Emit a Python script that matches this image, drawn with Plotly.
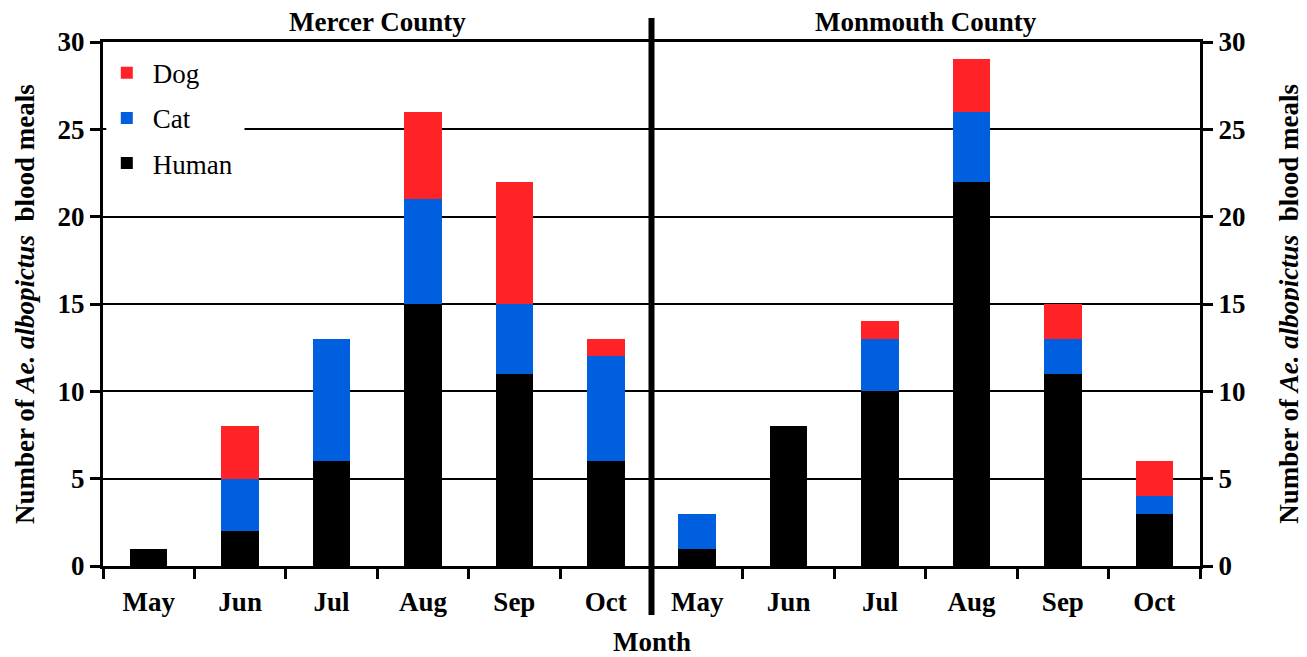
import plotly.graph_objects as go

months = ["May", "Jun", "Jul", "Aug", "Sep", "Oct"]
mercer_human = [1, 2, 6, 15, 11, 6]
mercer_cat = [0, 3, 7, 6, 4, 6]
mercer_dog = [0, 3, 0, 5, 7, 1]
monmouth_human = [1, 8, 10, 22, 11, 3]
monmouth_cat = [2, 0, 3, 4, 2, 1]
monmouth_dog = [0, 0, 1, 3, 2, 2]

RED = "#ff2227"
BLUE = "#005fdf"
BLACK = "#000000"
FONT = "Liberation Serif, Times New Roman, serif"
FS = 27

x_left = list(range(len(months)))
x_right = [len(months) + i for i in range(len(months))]

fig = go.Figure()
series = [("Human", BLACK, mercer_human, monmouth_human, 3),
          ("Cat", BLUE, mercer_cat, monmouth_cat, 2),
          ("Dog", RED, mercer_dog, monmouth_dog, 1)]
for name, col, left, right, rank in series:
    fig.add_trace(go.Bar(x=x_left, y=left, name=name, marker=dict(color=col, line=dict(width=0)),
                         width=0.41, legendgroup=name, legendrank=rank, xaxis="x", yaxis="y"))
    fig.add_trace(go.Bar(x=x_right, y=right, name=name, marker=dict(color=col, line=dict(width=0)),
                         width=0.41, legendgroup=name, legendrank=rank, showlegend=False,
                         xaxis="x", yaxis="y2"))

n = 2 * len(months)
tf = dict(family=FONT, size=FS, color="black", weight="bold")
fig.update_layout(
    width=1299, height=649,
    margin=dict(l=95, r=107, t=34, b=91, autoexpand=False),
    barmode="stack",
    plot_bgcolor="white", paper_bgcolor="white",
    font=dict(family=FONT, size=FS, color="black"),
    showlegend=True,
    legend=dict(x=-0.002, y=0.987, xanchor="left", yanchor="top", bgcolor="rgba(0,0,0,0)",
                traceorder="grouped", tracegroupgap=7,
                font=dict(family=FONT, size=FS, color="black"), itemwidth=42),
    xaxis=dict(range=[-0.5, n - 0.5], tickmode="array", tickvals=list(range(n)),
               ticktext=months + months, ticks="", showgrid=False, zeroline=False,
               showline=True, linecolor="black", linewidth=3, mirror=True,
               ticklabelstandoff=10, automargin=False, tickfont=tf,
               minor=dict(ticks="outside", tick0=-0.5, dtick=1, ticklen=10, tickwidth=3,
                          tickcolor="black", showgrid=False)),
    yaxis=dict(range=[0, 30], dtick=5, tick0=0, showgrid=True, gridcolor="black", gridwidth=1.5,
               zeroline=False, showline=True, linecolor="black", linewidth=3, automargin=False,
               ticks="outside", ticklen=10, tickwidth=3, tickcolor="black", tickfont=tf),
    yaxis2=dict(range=[0, 30], dtick=5, tick0=0, overlaying="y", side="right", showgrid=False,
                zeroline=False, showline=True, linecolor="black", linewidth=3, automargin=False,
                ticks="outside", ticklen=10, tickwidth=3, tickcolor="black", tickfont=tf),
    shapes=[dict(type="line", xref="x", yref="paper", x0=len(months) - 0.5, x1=len(months) - 0.5,
                 y0=-0.0935, y1=1.046, line=dict(color="black", width=6)),
            dict(type="rect", xref="paper", yref="y", x0=0.003, x1=0.129, y0=24.6, y1=25.4,
                 fillcolor="white", line=dict(width=0), layer="above")],
)

ytitle = "<b>Number of <i>Ae. albopictus</i>  blood meals</b>"
fig.add_annotation(text=ytitle, xref="paper", yref="paper", x=-0.071, y=0.5, textangle=-90,
                   xanchor="center", showarrow=False, font=dict(family=FONT, size=FS, color="black"))
fig.add_annotation(text=ytitle, xref="paper", yref="paper", x=1.081, y=0.5, textangle=-90,
                   xanchor="center", showarrow=False, font=dict(family=FONT, size=FS, color="black"))
fig.add_annotation(text="<b>Mercer County</b>", xref="x", yref="paper", x=2.5, y=1.0, yshift=20,
                   yanchor="middle", showarrow=False, font=dict(family=FONT, size=FS, color="black"))
fig.add_annotation(text="<b>Monmouth County</b>", xref="x", yref="paper", x=8.5, y=1.0, yshift=20,
                   yanchor="middle", showarrow=False, font=dict(family=FONT, size=FS, color="black"))
fig.add_annotation(text="<b>Month</b>", xref="paper", yref="paper", x=0.5, y=0, yshift=-76,
                   yanchor="middle", showarrow=False, font=dict(family=FONT, size=FS, color="black"))

fig.write_html("out.html")
